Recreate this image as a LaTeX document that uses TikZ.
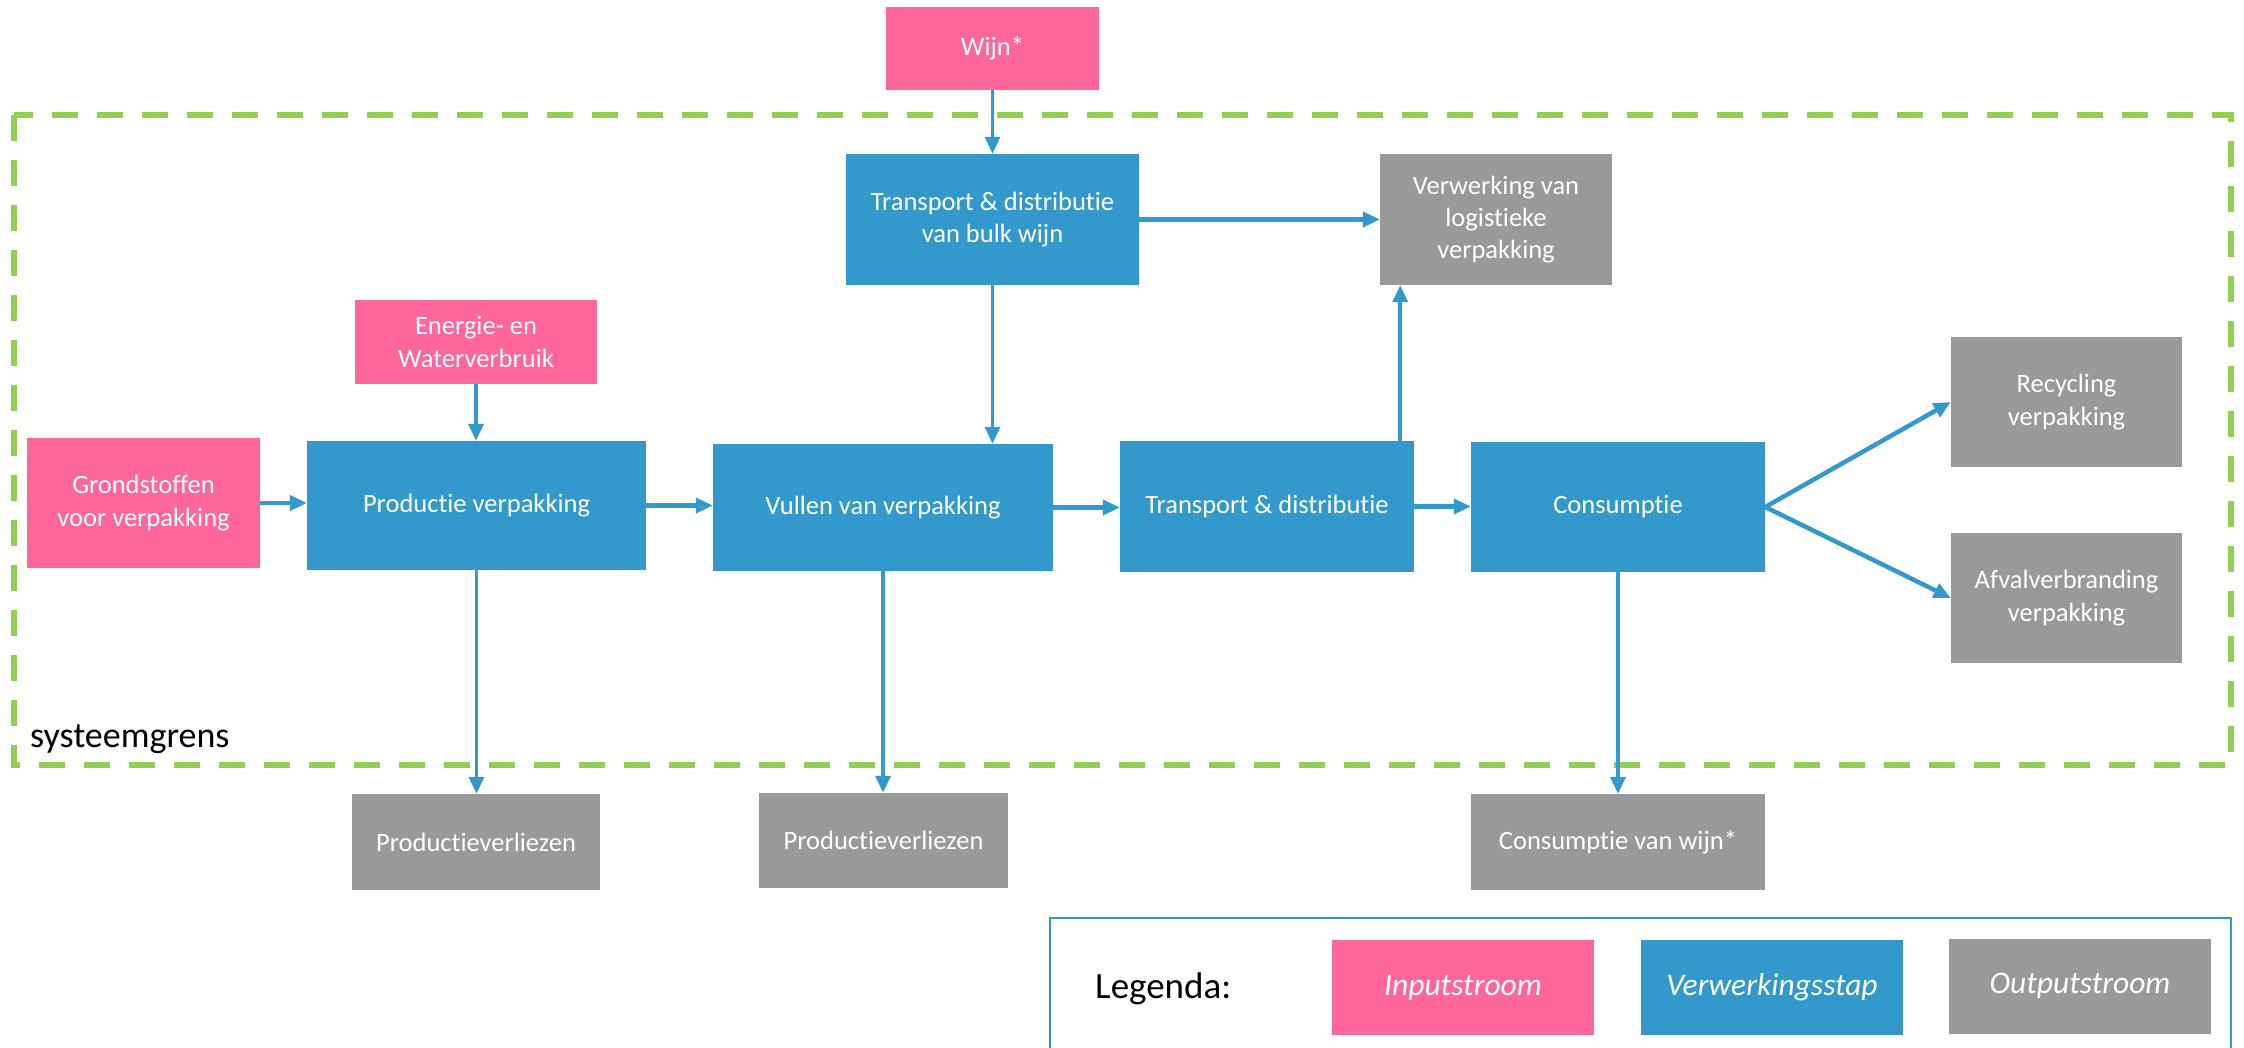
\documentclass[tikz,border=0pt]{standalone}
\usepackage{fontspec}
\setmainfont{Carlito}[Ligatures={NoCommon}]
\usetikzlibrary{arrows.meta,calc}
\definecolor{pinkc}{HTML}{FF6699}
\definecolor{bluec}{HTML}{3399CC}
\definecolor{grayc}{HTML}{999999}
\definecolor{greenc}{HTML}{92D050}
\begin{document}
\begin{tikzpicture}[x=1pt,y=-1pt,
  box/.style={rectangle, inner sep=0pt, text=white, font=\fontsize{26.5}{32.3}\selectfont, align=center},
  inbox/.style={box, fill=pinkc},
  procbox/.style={box, fill=bluec},
  outbox/.style={box, fill=grayc},
  legbox/.style={box, font=\fontsize{31.5}{38}\selectfont\itshape, minimum width=262pt, minimum height=95pt},
  flow/.style={draw=bluec, line width=3.5pt, -{Triangle[length=17pt,width=15pt]}},
  hflow/.style={flow, line width=4.5pt},
  boundary/.style={draw=greenc, line width=5.5pt, dash pattern=on 26pt off 19pt},
]
\useasboundingbox (0,0) rectangle (2244,1048);

% system boundary
\draw[boundary] (14,115) rectangle (2231,765);
\node[anchor=base west, inner sep=0pt, font=\fontsize{36}{43}\selectfont] (sg) at (30,747) {systeemgrens};

% input nodes
\node[inbox, minimum width=213pt, minimum height=83pt] (wijn) at (992.5,48.5) {Wijn*};
\node[inbox, minimum width=242pt, minimum height=84pt] (energie) at (476,342) {Energie- en\\Waterverbruik};
\node[inbox, minimum width=233pt, minimum height=130pt] (grond) at (143.5,503) {Grondstoffen\\voor verpakking};

% process nodes
\node[procbox, minimum width=293pt, minimum height=131pt] (bulk) at (992.5,219.5) {Transport \& distributie\\van bulk wijn};
\node[procbox, minimum width=339pt, minimum height=129pt] (prod) at (476.5,505.5) {Productie verpakking};
\node[procbox, minimum width=340pt, minimum height=127pt] (vul) at (883,507.5) {Vullen van verpakking};
\node[procbox, minimum width=294pt, minimum height=131pt] (trans) at (1267,506.5) {Transport \& distributie};
\node[procbox, minimum width=294pt, minimum height=130pt] (cons) at (1618,507) {Consumptie};

% output nodes
\node[outbox, minimum width=232pt, minimum height=131pt] (verw) at (1496,219.5) {Verwerking van\\logistieke\\verpakking};
\node[outbox, minimum width=231pt, minimum height=130pt] (recyc) at (2066.5,402) {Recycling\\verpakking};
\node[outbox, minimum width=231pt, minimum height=130pt] (afval) at (2066.5,598) {Afvalverbranding\\verpakking};
\node[outbox, minimum width=248pt, minimum height=96pt] (pv1) at (476,842) {Productieverliezen};
\node[outbox, minimum width=249pt, minimum height=95pt] (pv2) at (883.5,840.5) {Productieverliezen};
\node[outbox, minimum width=294pt, minimum height=96pt] (conw) at (1618,842) {Consumptie van wijn*};

% connectors
\draw[flow] (wijn.south) -- (bulk.north);
\draw[flow] (bulk.south) -- (bulk.south |- vul.north);
\draw[hflow] (bulk.east) -- (bulk.east -| verw.west);
\draw[flow] (energie.south) -- (energie.south |- prod.north);
\draw[hflow] (grond.east) -- (grond.east -| prod.west);
\draw[hflow] (prod.east) -- (prod.east -| vul.west);
\draw[hflow] (vul.east) -- (vul.east -| trans.west);
\draw[flow] ([xshift=-14pt]trans.north east) -- ([xshift=-14pt]trans.north east |- verw.south);
\draw[hflow] (trans.east) -- (trans.east -| cons.west);
\draw[hflow] (cons.east) -- (recyc.west);
\draw[hflow] (cons.east) -- (afval.west);
\draw[flow] (prod.south) -- (prod.south |- pv1.north);
\draw[flow] (vul.south) -- (vul.south |- pv2.north);
\draw[flow] (cons.south) -- (cons.south |- conw.north);

% legend
\draw[draw=bluec, line width=2pt] (1050,1056) -- (1050,918) -- (2231,918) -- (2231,1056);
\node[anchor=west, inner sep=0pt, font=\fontsize{37}{44}\selectfont] (legtitle) at (1095,989) {Legenda:};
\node[legbox, fill=pinkc] (legin) at (1463,987.5) {Inputstroom};
\node[legbox, fill=bluec] (legproc) at (1772,987.5) {Verwerkingsstap};
\node[legbox, fill=grayc] (legout) at (2080,986) {Outputstroom};
\end{tikzpicture}
\end{document}
